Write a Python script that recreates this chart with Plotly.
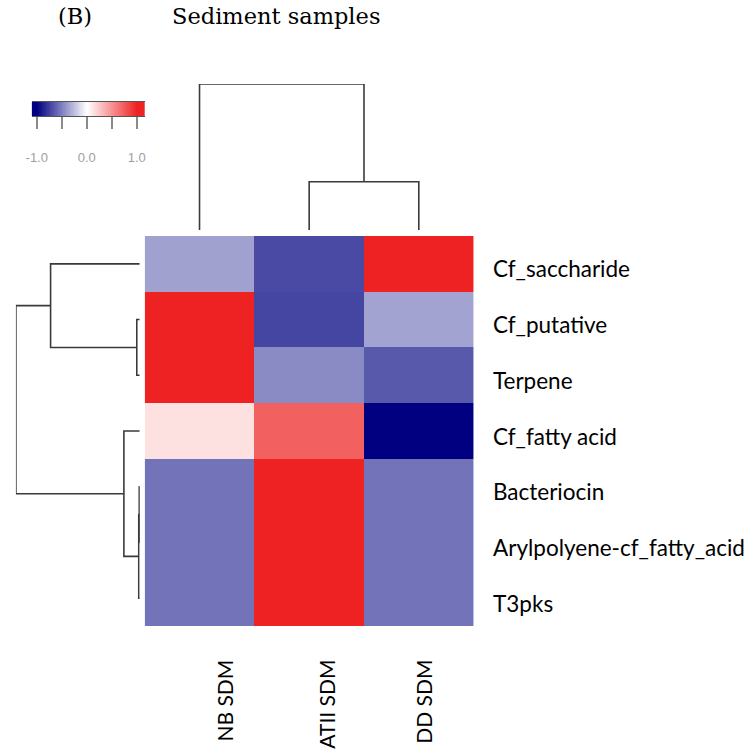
import numpy as np
import plotly.graph_objects as go

# ---------------- data ----------------
samples = ["NB SDM", "ATII SDM", "DD SDM"]
clusters = ["Cf_saccharide", "Cf_putative", "Terpene", "Cf_fatty acid",
            "Bacteriocin", "Arylpolyene-cf_fatty_acid", "T3pks"]
z_saccharide = [-0.37, -0.71, 1.0]
z_putative = [1.0, -0.73, -0.36]
z_terpene = [1.0, -0.46, -0.65]
z_fatty = [0.14, 0.72, -1.0]
z_bacteriocin = [-0.55, 1.0, -0.55]
z_arylpolyene = [-0.55, 1.0, -0.55]
z_t3pks = [-0.55, 1.0, -0.55]
Z = [z_saccharide, z_putative, z_terpene, z_fatty, z_bacteriocin, z_arylpolyene, z_t3pks]

# linkage (leaf indices in display order; new nodes numbered from n)
row_merges = [(1, 2, 0.024), (0, 7, 0.72), (4, 5, 0.004), (9, 6, 0.008),
              (3, 10, 0.128), (8, 11, 1.0)]
col_merges = [(1, 2, 0.33), (0, 3, 1.0)]

colorbar_ticks = [-1.0, -0.5, 0.0, 0.5, 1.0]
colorbar_ticktext = ["-1.0", "", "0.0", "", "1.0"]

# ---------------- helpers ----------------
W, H = 756, 755


def px_x(a, b):
    return [a / W, b / W]


def px_y(top, bottom):
    return [1 - bottom / H, 1 - top / H]


def dendro_segments(n, merges):
    pos = {i: float(i) for i in range(n)}
    hgt = {i: 0.0 for i in range(n)}
    ps, hs = [], []
    for k, (a, b, h) in enumerate(merges):
        node = n + k
        ps += [pos[a], pos[a], pos[b], pos[b], None]
        hs += [hgt[a], h, h, hgt[b], None]
        pos[node] = (pos[a] + pos[b]) / 2
        hgt[node] = h
    return ps, hs


colorscale = [[0.0, "rgb(0,0,128)"], [0.5, "rgb(255,255,255)"], [1.0, "rgb(238,34,34)"]]
line_col = "#3a3a3a"

fig = go.Figure()

# heatmap
fig.add_trace(go.Heatmap(
    z=Z, x=list(range(len(samples))), y=list(range(len(clusters))),
    colorscale=colorscale, zmin=-1, zmax=1, showscale=False,
    xaxis="x", yaxis="y", hoverinfo="skip"))

# top dendrogram
cp, ch = dendro_segments(len(samples), col_merges)
fig.add_trace(go.Scatter(x=cp, y=ch, mode="lines", line=dict(color=line_col, width=1.6),
                         xaxis="x2", yaxis="y2", hoverinfo="skip", showlegend=False))

# left dendrogram
rp, rh = dendro_segments(len(clusters), row_merges)
fig.add_trace(go.Scatter(x=rh, y=rp, mode="lines", line=dict(color=line_col, width=1.6),
                         xaxis="x3", yaxis="y3", hoverinfo="skip", showlegend=False))

# colour key
cb_x = np.linspace(-1.1, 1.16, 200)
fig.add_trace(go.Heatmap(
    z=[cb_x], x=cb_x, y=[0], colorscale=colorscale, zmin=-1, zmax=1,
    showscale=False, xaxis="x4", yaxis="y4", hoverinfo="skip"))

hm_x = px_x(140, 472)
hm_y = px_y(236, 626)

axis_off = dict(showgrid=False, zeroline=False, showticklabels=False, ticks="", showline=False)

fig.update_layout(
    width=W, height=H, margin=dict(l=0, r=0, t=0, b=0),
    paper_bgcolor="white", plot_bgcolor="white", showlegend=False,
    xaxis=dict(domain=hm_x, range=[-0.5, 2.5], **axis_off),
    yaxis=dict(domain=hm_y, range=[6.5, -0.5], **axis_off),
    xaxis2=dict(domain=hm_x, range=[-0.5, 2.5], anchor="y2", **axis_off),
    yaxis2=dict(domain=px_y(84, 230), range=[0, 1.0], anchor="x2", **axis_off),
    xaxis3=dict(domain=px_x(10, 135), range=[1.0, 0], anchor="y3", **axis_off),
    yaxis3=dict(domain=hm_y, range=[6.5, -0.5], anchor="x3", **axis_off),
    xaxis4=dict(domain=px_x(26, 140), range=[-1.1, 1.16], anchor="y4",
                showgrid=False, zeroline=False, showline=True, mirror=True,
                linecolor="#555", linewidth=1,
                ticks="outside", ticklen=12, tickwidth=2, tickcolor="#8a8a8a",
                tickvals=colorbar_ticks, ticktext=colorbar_ticktext,
                ticklabelstandoff=17,
                tickfont=dict(family="Liberation Sans", size=13, color="#a0a0a0")),
    yaxis4=dict(domain=px_y(102, 116), range=[-0.5, 0.5], anchor="x4", **axis_off),
)

# row labels (right of heatmap)
for j, c in enumerate(clusters):
    fig.add_annotation(x=490 / W, xref="paper", y=j, yref="y", text=c,
                       showarrow=False, xanchor="left", yanchor="middle", yshift=-5,
                       font=dict(family="Lato", size=22.5, color="black"))

# column labels
col_shift = [24, 17, 4]
for i, s in enumerate(samples):
    fig.add_annotation(x=i, xref="x", y=1 - 658 / H, yref="paper", text=s,
                       textangle=-90, showarrow=False, xanchor="center", yanchor="top",
                       xshift=col_shift[i],
                       font=dict(family="Lato", size=21, color="black"))

# title
fig.add_annotation(x=50 / W, y=1 - 16 / H, xref="paper", yref="paper", text="(B)",
                   showarrow=False, xanchor="left", yanchor="middle",
                   font=dict(family="DejaVu Serif", size=22.5, color="black"))
fig.add_annotation(x=166 / W, y=1 - 16 / H, xref="paper", yref="paper", text="Sediment samples",
                   showarrow=False, xanchor="left", yanchor="middle",
                   font=dict(family="DejaVu Serif", size=22.5, color="black"))

fig.write_html(
    "out.html",
    config={"displayModeBar": False, "responsive": False},
    post_script=("document.body.style.margin='0';document.body.style.overflow='hidden';"
                 "var d=document.getElementById('{plot_id}');"
                 "d.style.position='absolute';d.style.left='0px';d.style.top='0px';"),
)
